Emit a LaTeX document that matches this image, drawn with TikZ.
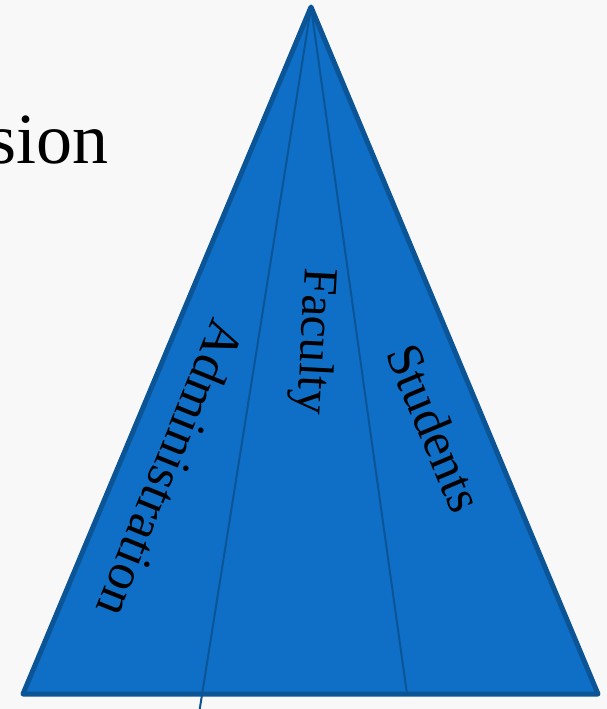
\documentclass[tikz,border=0pt]{standalone}
\usepackage{fontspec}
\setmainfont{Liberation Serif}
\definecolor{pyrfill}{HTML}{0F6FC6}
\definecolor{pyrline}{HTML}{0B5596}
\definecolor{bgcol}{HTML}{F8F8F8}
\tikzset{
  pyrlabel/.style={text=black, inner sep=0pt},
  divider/.style={draw=pyrline, line width=2pt},
  outline/.style={draw=pyrline, line width=5pt, line join=round}
}
\begin{document}
\begin{tikzpicture}[x=1pt,y=-1pt]
\useasboundingbox (0,0) rectangle (607,709);
\fill[bgcol] (0,0) rectangle (607,709);
\clip (0,0) rectangle (607,709);
\coordinate (apex) at (311,7);
\coordinate (bl) at (23,694);
\coordinate (br) at (598,694);
\coordinate (dl) at (198,720);
\coordinate (dr) at (407,694);
\fill[pyrfill] (apex) -- (bl) -- (br) -- cycle;
\draw[divider] (apex) -- (dl);
\draw[divider] (apex) -- (dr);
\draw[outline] (apex) -- (bl) -- (br) -- cycle;
\node[pyrlabel, font=\fontsize{52}{60}\selectfont, rotate=-112] (adm) at (171,469) {Administration};
\node[pyrlabel, font=\fontsize{49}{56}\selectfont, rotate=-93] (fac) at (313,341) {Faculty};
\node[pyrlabel, font=\fontsize{51}{58}\selectfont, rotate=-67.3] (stu) at (435,428) {Students};
\node[font=\fontsize{72}{80}\selectfont, text=black, inner sep=0pt, anchor=base east] (title) at (109,163) {sion};
\end{tikzpicture}
\end{document}
